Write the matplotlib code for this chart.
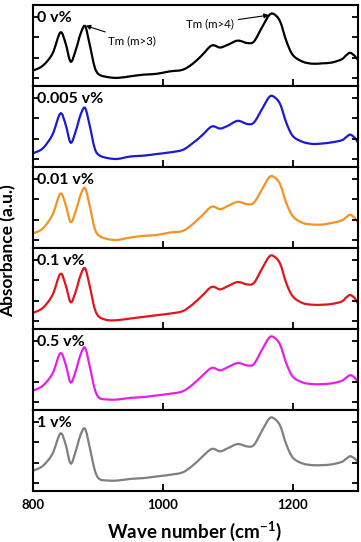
import numpy as np
import matplotlib
matplotlib.use("Agg")
import matplotlib.pyplot as plt
from matplotlib.path import Path
from matplotlib.patches import PathPatch

plt.rcParams['font.family'] = ['Lato', 'DejaVu Sans']
plt.rcParams['mathtext.fontset'] = 'custom'
plt.rcParams['mathtext.bf'] = 'Lato:bold'
plt.rcParams['mathtext.rm'] = 'Lato'

wavenumber = [800, 815, 830, 842, 850, 858, 866, 873, 880, 887, 895, 902, 915, 930,
              950, 970, 990, 1010, 1030, 1045, 1060, 1075, 1088, 1100, 1115, 1130,
              1140, 1152, 1163, 1170, 1180, 1190, 1200, 1215, 1230, 1245, 1260, 1275,
              1282, 1288, 1295, 1300]

abs_0 = [0.19, 0.25, 0.40, 0.66, 0.53, 0.30, 0.45, 0.64, 0.74, 0.52, 0.23, 0.14, 0.11, 0.10,
         0.12, 0.14, 0.15, 0.18, 0.20, 0.27, 0.38, 0.50, 0.475, 0.51, 0.56, 0.53,
         0.55, 0.72, 0.87, 0.89, 0.80, 0.55, 0.38, 0.30, 0.275, 0.28, 0.29, 0.33,
         0.38, 0.41, 0.37, 0.32]
abs_0005 = [0.17, 0.23, 0.40, 0.66, 0.53, 0.30, 0.45, 0.64, 0.73, 0.52, 0.23, 0.145, 0.11, 0.10,
            0.13, 0.14, 0.16, 0.18, 0.21, 0.29, 0.39, 0.50, 0.475, 0.51, 0.57, 0.53,
            0.55, 0.71, 0.86, 0.87, 0.78, 0.54, 0.38, 0.31, 0.285, 0.29, 0.305, 0.33,
            0.37, 0.40, 0.36, 0.30]
abs_001 = [0.18, 0.24, 0.41, 0.67, 0.54, 0.32, 0.46, 0.65, 0.74, 0.53, 0.24, 0.15, 0.11, 0.10,
           0.13, 0.15, 0.16, 0.19, 0.21, 0.29, 0.40, 0.51, 0.48, 0.52, 0.57, 0.54,
           0.56, 0.72, 0.87, 0.88, 0.79, 0.55, 0.39, 0.31, 0.29, 0.29, 0.31, 0.34,
           0.38, 0.41, 0.37, 0.31]
abs_01 = [0.20, 0.26, 0.42, 0.68, 0.55, 0.33, 0.47, 0.66, 0.75, 0.54, 0.25, 0.15, 0.11, 0.11,
          0.13, 0.15, 0.17, 0.19, 0.22, 0.30, 0.41, 0.52, 0.49, 0.53, 0.58, 0.55,
          0.57, 0.74, 0.89, 0.90, 0.81, 0.56, 0.40, 0.32, 0.30, 0.30, 0.31, 0.34,
          0.39, 0.42, 0.38, 0.31]
abs_05 = [0.24, 0.30, 0.45, 0.70, 0.57, 0.34, 0.49, 0.68, 0.77, 0.55, 0.26, 0.15, 0.13, 0.13,
          0.15, 0.16, 0.18, 0.20, 0.23, 0.31, 0.42, 0.52, 0.49, 0.53, 0.58, 0.55,
          0.57, 0.74, 0.89, 0.90, 0.81, 0.57, 0.41, 0.34, 0.32, 0.32, 0.33, 0.36,
          0.40, 0.43, 0.40, 0.34]
abs_1 = [0.25, 0.31, 0.46, 0.71, 0.58, 0.34, 0.50, 0.69, 0.77, 0.55, 0.26, 0.15, 0.13, 0.13,
         0.15, 0.16, 0.18, 0.20, 0.23, 0.31, 0.42, 0.52, 0.49, 0.53, 0.58, 0.55,
         0.57, 0.74, 0.89, 0.90, 0.81, 0.57, 0.41, 0.34, 0.32, 0.32, 0.33, 0.36,
         0.40, 0.43, 0.40, 0.36]

labels = ["0 v%", "0.005 v%", "0.01 v%", "0.1 v%", "0.5 v%", "1 v%"]
series = [abs_0, abs_0005, abs_001, abs_01, abs_05, abs_1]
colors = ["#000000", "#1a1ad6", "#f39322", "#e3141b", "#e81ee8", "#7f7f7f"]
x_ticklabels = ["800", "1000", "1200"]


def smooth_path(xs, ys):
    xs = np.asarray(xs, float)
    ys = np.asarray(ys, float)
    pts = np.column_stack([xs, ys])
    n = len(pts)
    verts = [pts[0]]
    codes = [Path.MOVETO]
    for i in range(n - 1):
        p0 = pts[i - 1] if i > 0 else pts[i]
        p1 = pts[i]
        p2 = pts[i + 1]
        p3 = pts[i + 2] if i + 2 < n else pts[i + 1]
        c1 = p1 + (p2 - p0) / 6.0
        c2 = p2 - (p3 - p1) / 6.0
        verts += [c1, c2, p2]
        codes += [Path.CURVE4] * 3
    return Path(verts, codes)


fig = plt.figure(figsize=(3.61, 5.42), dpi=100)
axes = fig.subplots(6, 1, sharex=True)
fig.subplots_adjust(left=0.0914, right=0.9917, bottom=0.094, top=0.9908, hspace=0)

for i, ax in enumerate(axes):
    ax.add_patch(PathPatch(smooth_path(wavenumber, series[i]), fill=False,
                           edgecolor=colors[i], lw=1.6, transform=ax.transData))
    ax.set_xlim(800, 1300)
    ax.set_ylim(0, 1)
    ax.set_yticks([0.1, 0.35, 0.6, 0.85])
    ax.set_yticklabels([])
    ax.tick_params(axis='y', which='both', direction='in', left=True, right=True,
                   length=4, width=1.3)
    for s in ax.spines.values():
        s.set_linewidth(1.5)
    ax.text(0.012, 0.84, labels[i], transform=ax.transAxes, ha='left', va='center',
            fontsize=11.5, fontweight='bold')
    if i < 5:
        ax.set_xticks([900, 1000, 1100, 1200])
        ax.tick_params(axis='x', direction='in', length=5, width=1.3, labelbottom=False)
    else:
        ax.set_xticks([800, 1000, 1200])
        ax.set_xticklabels(x_ticklabels)
        ax.tick_params(axis='x', direction='in', length=5, width=1.3, pad=6, labelsize=9.5)
        for lab in ax.get_xticklabels():
            lab.set_fontweight('bold')

ax0 = axes[0]
ax0.annotate("Tm (m>3)", xy=(881, 0.745), xytext=(916, 0.56), fontsize=8.3,
             ha='left', va='center',
             arrowprops=dict(arrowstyle='-|>', color='black', lw=0.8,
                             mutation_scale=7, shrinkA=1, shrinkB=0))
ax0.annotate("Tm (m>4)", xy=(1163, 0.875), xytext=(1036, 0.77), fontsize=8.3,
             ha='left', va='center',
             arrowprops=dict(arrowstyle='-|>', color='black', lw=0.8,
                             mutation_scale=7, shrinkA=1, shrinkB=0))

fig.text(0.024, 0.538, "Absorbance (a.u.)", rotation=90, ha='center', va='center',
         fontsize=12.5, fontweight='bold')
fig.text(0.54, 0.02, "Wave number (cm$^{\\mathbf{-1}}$)", ha='center', va='center',
         fontsize=13.5, fontweight='bold')

fig.savefig("out.png", dpi=100)
